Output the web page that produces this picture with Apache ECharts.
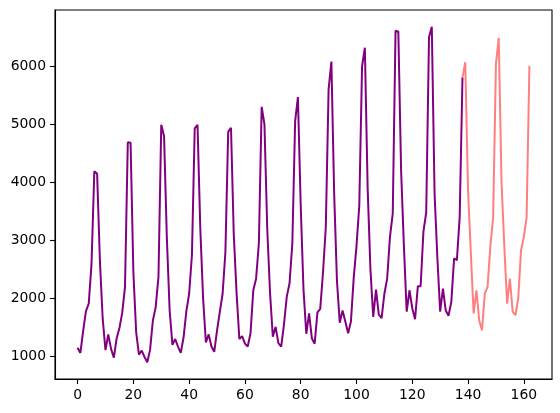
<!DOCTYPE html>
<html>
<head>
<meta charset="utf-8">
<script src="https://cdn.jsdelivr.net/npm/echarts@6/dist/echarts.min.js"></script>
<style>
  html, body { margin: 0; padding: 0; background: #fff; }
  #chart { width: 560px; height: 413px; }
</style>
</head>
<body>
<div id="chart"></div>
<script>
// observed series, one value per step starting at x = 0
const observedValues = [
  1150, 1060, 1440, 1780, 1910, 2600, 4190, 4150, 2650, 1650, 1110, 1380,
  1130, 980, 1310, 1490, 1750, 2200, 4690, 4680, 2450, 1420, 1030, 1100,
  990, 900, 1120, 1620, 1850, 2370, 4990, 4800, 3050, 1800, 1200, 1300,
  1170, 1060, 1330, 1780, 2080, 2750, 4930, 4990, 3200, 2000, 1240, 1380,
  1170, 1080, 1450, 1770, 2080, 2800, 4870, 4940, 3100, 2100, 1300, 1350,
  1220, 1170, 1400, 2140, 2340, 2950, 5300, 5000, 3200, 2100, 1340, 1510,
  1230, 1170, 1550, 2030, 2260, 2950, 5050, 5470, 3600, 2150, 1390, 1740,
  1310, 1220, 1760, 1820, 2450, 3230, 5600, 6080, 3800, 2300, 1580, 1790,
  1600, 1400, 1600, 2350, 2900, 3600, 6000, 6320, 3900, 2500, 1680, 2150,
  1720, 1660, 2080, 2340, 3060, 3460, 6610, 6600, 4200, 2900, 1770, 2140,
  1830, 1640, 2210, 2210, 3150, 3480, 6500, 6680, 3800, 2700, 1770, 2170,
  1790, 1700, 1940, 2690, 2660, 3400, 5800
];

// forecast series, starts where the observed one ends
const forecastStart = 138;
const forecastValues = [
  5800, 6070, 3860, 2780, 1740, 2140, 1620, 1450, 2080, 2200, 2900, 3400,
  6040, 6490, 4000, 2900, 1910, 2340, 1770, 1710, 2000, 2830, 3060, 3400,
  6010
];

const xTicks = [0, 20, 40, 60, 80, 100, 120, 140, 160];
const yTicks = [1000, 2000, 3000, 4000, 5000, 6000];

const observedData = observedValues.map((v, i) => [i, v]);
const forecastData = forecastValues.map((v, i) => [forecastStart + i, v]);

const chart = echarts.init(document.getElementById("chart"), null, { renderer: "canvas" });

const axisCommon = {
  axisLine: { show: true, onZero: false, lineStyle: { color: "#000", width: 1.1 } },
  axisTick: { show: true, inside: false, length: 5, lineStyle: { color: "#000", width: 1.1 } },
  splitLine: { show: false },
};

const labelCommon = {
  margin: 9,
  color: "#000",
  fontFamily: "DejaVu Sans",
  fontSize: 13.9,
  formatter: (v) => String(v),
};

chart.setOption({
  animation: false,
  backgroundColor: "#fff",
  grid: {
    left: 55, top: 10, width: 497, height: 369,
    show: true, borderColor: "#000", borderWidth: 1.1,
  },
  xAxis: {
    type: "value",
    min: -8.1,
    max: 170.1,
    ...axisCommon,
    axisTick: { ...axisCommon.axisTick, customValues: xTicks },
    axisLabel: { ...labelCommon, customValues: xTicks },
  },
  yAxis: {
    type: "value",
    min: 611,
    max: 6969,
    ...axisCommon,
    axisTick: { ...axisCommon.axisTick, customValues: yTicks },
    axisLabel: { ...labelCommon, customValues: yTicks },
  },
  series: [
    {
      name: "observed",
      type: "line",
      data: observedData,
      showSymbol: false,
      lineStyle: { color: "#800080", width: 2 },
      z: 3,
    },
    {
      name: "forecast",
      type: "line",
      data: forecastData,
      showSymbol: false,
      lineStyle: { color: "#ff0000", opacity: 0.5, width: 2 },
      z: 2,
    },
  ],
});
</script>
</body>
</html>
